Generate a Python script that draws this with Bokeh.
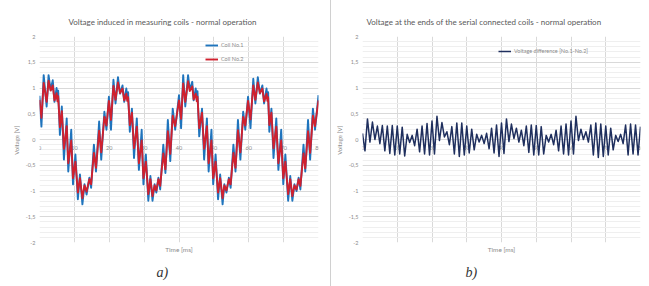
from bokeh.plotting import figure
from bokeh.models import (Range1d, FixedTicker, Legend, LegendItem, Title,
                          CustomJSTickFormatter)
from bokeh.layouts import row
from bokeh.embed import file_html
from bokeh.resources import INLINE
from bokeh.core.properties import value

# ---------------- data ----------------
time_ms = [
    0.0, 0.55, 1.2, 2.05, 2.6, 3.2, 3.8, 4.3, 4.9, 5.15, 5.35, 5.85, 6.4, 7.0, 7.8, 8.25,
    9.1, 9.6, 10.3, 11.0, 11.6, 12.3, 12.9, 13.5, 14.3, 14.8, 15.6, 16.2, 17.1, 17.7, 18.6, 19.2,
    19.9, 20.5, 21.2, 21.8, 22.5, 23.1, 23.8, 24.3, 24.9, 25.15, 25.4, 25.9, 26.5, 27.1, 27.9, 28.5,
    29.3, 29.8, 30.5, 31.2, 31.8, 32.4, 33.0, 33.5, 34.1, 34.6, 35.5, 36.1, 36.8, 37.5, 38.2, 38.9,
    40.0, 40.6, 41.2, 41.8, 42.6, 43.1, 43.8, 44.2, 44.8, 45.1, 45.3, 45.8, 46.6, 47.2, 48.0, 48.5,
    49.3, 49.8, 50.5, 51.2, 51.8, 52.5, 53.0, 53.6, 54.3, 54.8, 55.6, 56.2, 56.9, 57.6, 58.4, 59.0,
    59.8, 60.5, 61.3, 61.9, 62.6, 63.2, 63.9, 64.4, 65.1, 65.35, 65.55, 65.9, 66.5, 67.1, 67.9, 68.5,
    69.3, 69.9, 70.5, 71.3, 71.9, 72.5, 73.1, 73.7, 74.3, 74.8, 75.7, 76.2, 77.0, 77.6, 78.4, 79.0,
    80.0,
]
coil_1 = [
    0.85, 0.25, 1.25, 0.64, 1.25, 0.96, 1.15, 0.73, 1.00, 0.78, 0.95, 0.09, 0.64, -0.39, 0.41, -0.62,
    0.19, -0.87, -0.29, -1.16, -0.68, -1.26, -0.87, -1.07, -0.74, -0.94, -0.10, -0.62, 0.35, -0.39, 0.54, 0.19,
    0.83, 0.19, 1.16, 0.70, 1.21, 0.89, 1.05, 0.73, 0.99, 0.80, 0.92, 0.15, 0.60, -0.36, 0.41, -0.59,
    0.19, -0.87, -0.29, -1.19, -0.71, -1.19, -0.87, -1.03, -0.74, -0.97, -0.10, -0.65, 0.38, -0.42, 0.60, 0.19,
    0.86, 0.22, 1.25, 0.64, 1.25, 0.96, 1.12, 0.76, 0.99, 0.78, 0.94, 0.06, 0.60, -0.39, 0.41, -0.62,
    0.19, -0.87, -0.29, -1.16, -0.68, -1.26, -0.87, -1.03, -0.74, -0.94, -0.10, -0.62, 0.38, -0.39, 0.54, 0.19,
    0.83, 0.22, 1.18, 0.70, 1.21, 0.89, 1.05, 0.70, 0.99, 0.80, 0.92, 0.15, 0.60, -0.36, 0.41, -0.59,
    0.19, -0.87, -0.29, -1.19, -0.71, -1.19, -0.87, -1.00, -0.74, -0.97, -0.10, -0.62, 0.38, -0.39, 0.60, 0.19,
    0.86,
]
coil_2 = [
    0.77, 0.42, 1.10, 0.73, 1.14, 0.95, 1.05, 0.76, 0.90, 0.74, 0.84, 0.24, 0.55, -0.18, 0.26, -0.46,
    -0.02, -0.75, -0.43, -1.03, -0.75, -1.14, -0.89, -1.01, -0.77, -0.87, -0.26, -0.55, 0.17, -0.25, 0.44, 0.27,
    0.75, 0.38, 1.04, 0.77, 1.11, 0.90, 0.99, 0.76, 0.89, 0.75, 0.82, 0.28, 0.52, -0.17, 0.25, -0.46,
    -0.02, -0.75, -0.43, -1.06, -0.77, -1.10, -0.89, -0.99, -0.77, -0.90, -0.27, -0.58, 0.16, -0.28, 0.46, 0.26,
    0.76, 0.40, 1.09, 0.73, 1.13, 0.94, 1.03, 0.78, 0.89, 0.74, 0.83, 0.22, 0.52, -0.18, 0.26, -0.46,
    -0.02, -0.75, -0.43, -1.03, -0.75, -1.14, -0.89, -0.99, -0.77, -0.87, -0.26, -0.55, 0.18, -0.25, 0.44, 0.27,
    0.75, 0.39, 1.05, 0.77, 1.11, 0.90, 0.99, 0.74, 0.89, 0.75, 0.82, 0.28, 0.52, -0.17, 0.25, -0.46,
    -0.02, -0.75, -0.43, -1.06, -0.77, -1.10, -0.89, -0.97, -0.77, -0.90, -0.27, -0.56, 0.16, -0.26, 0.46, 0.26,
    0.76,
]

diff_time_ms = [
    0, 0.71, 1.43, 2.14, 2.86, 3.57, 4.29, 5, 5.71, 6.43, 7.14, 7.86, 8.57, 9.29,
    10, 10.71, 11.43, 12.14, 12.86, 13.57, 14.29, 15, 15.71, 16.43, 17.14, 17.86, 18.57, 19.29,
    20, 20.71, 21.43, 22.14, 22.86, 23.57, 24.29, 25, 25.71, 26.43, 27.14, 27.86, 28.57, 29.29,
    30, 30.71, 31.43, 32.14, 32.86, 33.57, 34.29, 35, 35.71, 36.43, 37.14, 37.86, 38.57, 39.29,
    40, 40.71, 41.43, 42.14, 42.86, 43.57, 44.29, 45, 45.71, 46.43, 47.14, 47.86, 48.57, 49.29,
    50, 50.71, 51.43, 52.14, 52.86, 53.57, 54.29, 55, 55.71, 56.43, 57.14, 57.86, 58.57, 59.29,
    60, 60.71, 61.43, 62.14, 62.86, 63.57, 64.29, 65, 65.71, 66.43, 67.14, 67.86, 68.57, 69.29,
    70, 70.71, 71.43, 72.14, 72.86, 73.57, 74.29, 75, 75.71, 76.43, 77.14, 77.86, 78.57, 79.29,
    80,
]
voltage_difference = [
    0.12, -0.22, 0.40, -0.05, 0.34, 0.00, 0.26, -0.08, 0.27, -0.22, 0.26, -0.27, 0.27, -0.30,
    0.26, -0.28, 0.24, -0.32, 0.10, -0.06, 0.08, -0.12, 0.20, -0.24, 0.26, -0.28, 0.31, -0.30,
    0.36, -0.28, 0.45, -0.02, 0.33, 0.05, 0.15, -0.10, 0.25, -0.28, 0.32, -0.33, 0.32, -0.30,
    0.26, -0.26, 0.20, -0.20, 0.10, -0.05, 0.08, -0.08, 0.12, -0.18, 0.22, -0.26, 0.28, -0.33,
    0.32, -0.27, 0.40, -0.04, 0.30, 0.02, 0.22, -0.05, 0.18, -0.12, 0.26, -0.25, 0.28, -0.30,
    0.27, -0.30, 0.25, -0.28, 0.08, -0.05, 0.10, -0.10, 0.18, -0.22, 0.26, -0.28, 0.30, -0.30,
    0.36, -0.28, 0.45, -0.02, 0.20, 0.00, 0.15, -0.05, 0.28, -0.30, 0.32, -0.35, 0.30, -0.33,
    0.26, -0.30, 0.22, -0.20, 0.08, -0.04, 0.10, -0.08, 0.28, -0.30, 0.30, -0.28, 0.28, -0.30,
    0.25,
]

x_ticks = [0, 10, 20, 30, 40, 50, 60, 70, 80]
x_tick_labels = ["0", "10", "20", "30", "40", "50", "60", "70", "80"]
y_ticks = [-2, -1.5, -1, -0.5, 0, 0.5, 1, 1.5, 2]
y_minor = [round(-2 + 0.1 * k, 1) for k in range(41)]

title_a = "Voltage induced in measuring coils - normal operation"
title_b = "Voltage at the ends of the serial connected coils - normal operation"

# ---------------- styling ----------------
FONT = "Lato"
TXT = "#595959"
LBL = "#8c8c8c"
H = 286


def make_fig(width, title, left, right, title_offset, tag, tag_offset):
    p = figure(width=width, height=H, x_range=Range1d(0, 80), y_range=Range1d(-2, 2),
               output_backend="svg", toolbar_location=None,
               min_border_left=left, min_border_right=right,
               min_border_top=36, min_border_bottom=42)
    p.outline_line_color = None
    p.background_fill_color = "white"
    p.border_fill_alpha = 0
    p.title.text = title
    p.title.align = "left"
    p.title.offset = title_offset
    p.title.text_font = FONT
    p.title.text_font_size = "8px"
    p.title.text_font_style = "normal"
    p.title.text_color = TXT
    p.title.standoff = 19

    yt = FixedTicker(ticks=y_ticks, minor_ticks=y_minor)
    p.yaxis.ticker = yt
    p.ygrid.ticker = yt
    p.yaxis.formatter = CustomJSTickFormatter(code="return tick.toString().replace('.', ',');")
    p.yaxis.major_label_text_font = FONT
    p.yaxis.major_label_text_font_size = "5.5px"
    p.yaxis.major_label_text_color = LBL
    p.yaxis.major_label_standoff = 4
    p.yaxis.major_tick_out = 0
    p.yaxis.minor_tick_out = 0
    p.yaxis.major_tick_in = 0
    p.yaxis.minor_tick_in = 0
    p.yaxis.axis_label = "Voltage  [V]"
    p.yaxis.axis_label_text_font = FONT
    p.yaxis.axis_label_text_font_size = "6px"
    p.yaxis.axis_label_text_font_style = "normal"
    p.yaxis.axis_label_text_color = LBL
    p.yaxis.axis_label_standoff = 3
    p.yaxis.axis_line_color = None
    p.yaxis.major_tick_line_color = None
    p.yaxis.minor_tick_line_color = None

    xt = FixedTicker(ticks=x_ticks)
    p.xgrid.ticker = xt
    p.xaxis.ticker = FixedTicker(ticks=[])
    p.xaxis.major_tick_out = 0
    p.xaxis.minor_tick_out = 0
    p.xaxis.major_tick_in = 0
    p.xaxis.minor_tick_in = 0
    p.xaxis.major_label_standoff = 0
    p.xaxis.axis_line_color = None
    p.xaxis.axis_label = "Time [ms]"
    p.xaxis.axis_label_text_font = FONT
    p.xaxis.axis_label_text_font_size = "6.5px"
    p.xaxis.axis_label_text_font_style = "normal"
    p.xaxis.axis_label_text_color = LBL
    p.xaxis.axis_label_standoff = 3

    p.xgrid.grid_line_color = "#d9d9d9"
    p.ygrid.grid_line_color = "#d9d9d9"
    p.ygrid.minor_grid_line_color = "#efefef"

    p.text(x=x_ticks, y=[0] * len(x_ticks), text=x_tick_labels,
           text_align="center", text_baseline="top", y_offset=6,
           text_font=value(FONT), text_font_size="5.5px", text_color=LBL)

    p.add_layout(Title(text=tag, align="left", offset=tag_offset,
                       text_font="Liberation Serif", text_font_style="italic",
                       text_font_size="14px", text_color="#333333", standoff=14), "below")
    return p


def style_legend(p, items, loc):
    leg = Legend(items=items, location=loc, orientation="vertical")
    leg.background_fill_alpha = 0
    leg.border_line_color = None
    leg.label_text_font = FONT
    leg.label_text_font_size = "5.5px"
    leg.label_text_color = LBL
    leg.glyph_width = 13
    leg.glyph_height = 8
    leg.label_height = 8
    leg.label_standoff = 3
    leg.spacing = 6
    leg.padding = 0
    leg.margin = 0
    p.add_layout(leg)


# ---- left chart ----
pa = make_fig(331, title_a, 39, 13, 29, "a)", 117)
r1 = pa.line(time_ms, coil_1, line_color="#1f74bd", line_width=1.9, line_join="round")
r2 = pa.line(time_ms, coil_2, line_color="#d0202e", line_width=1.9, line_join="round")
style_legend(pa, [LegendItem(label="Coil No.1", renderers=[r1]),
                  LegendItem(label="Coil No.2", renderers=[r2])], (166, 179))
pa.styles = {"border-right": "1px solid #d0d0d0", "box-sizing": "border-box"}

# ---- right chart ----
pb = make_fig(318, title_b, 31, 9, 4, "b)", 103)
r3 = pb.line(diff_time_ms, voltage_difference, line_color="#1f2f5e", line_width=1.5,
             line_join="round")
style_legend(pb, [LegendItem(label="Voltage difference [No.1-No.2]", renderers=[r3])], (136, 187))

layout = row(pa, pb, spacing=0)
open("out.html", "w").write(file_html(layout, INLINE))
